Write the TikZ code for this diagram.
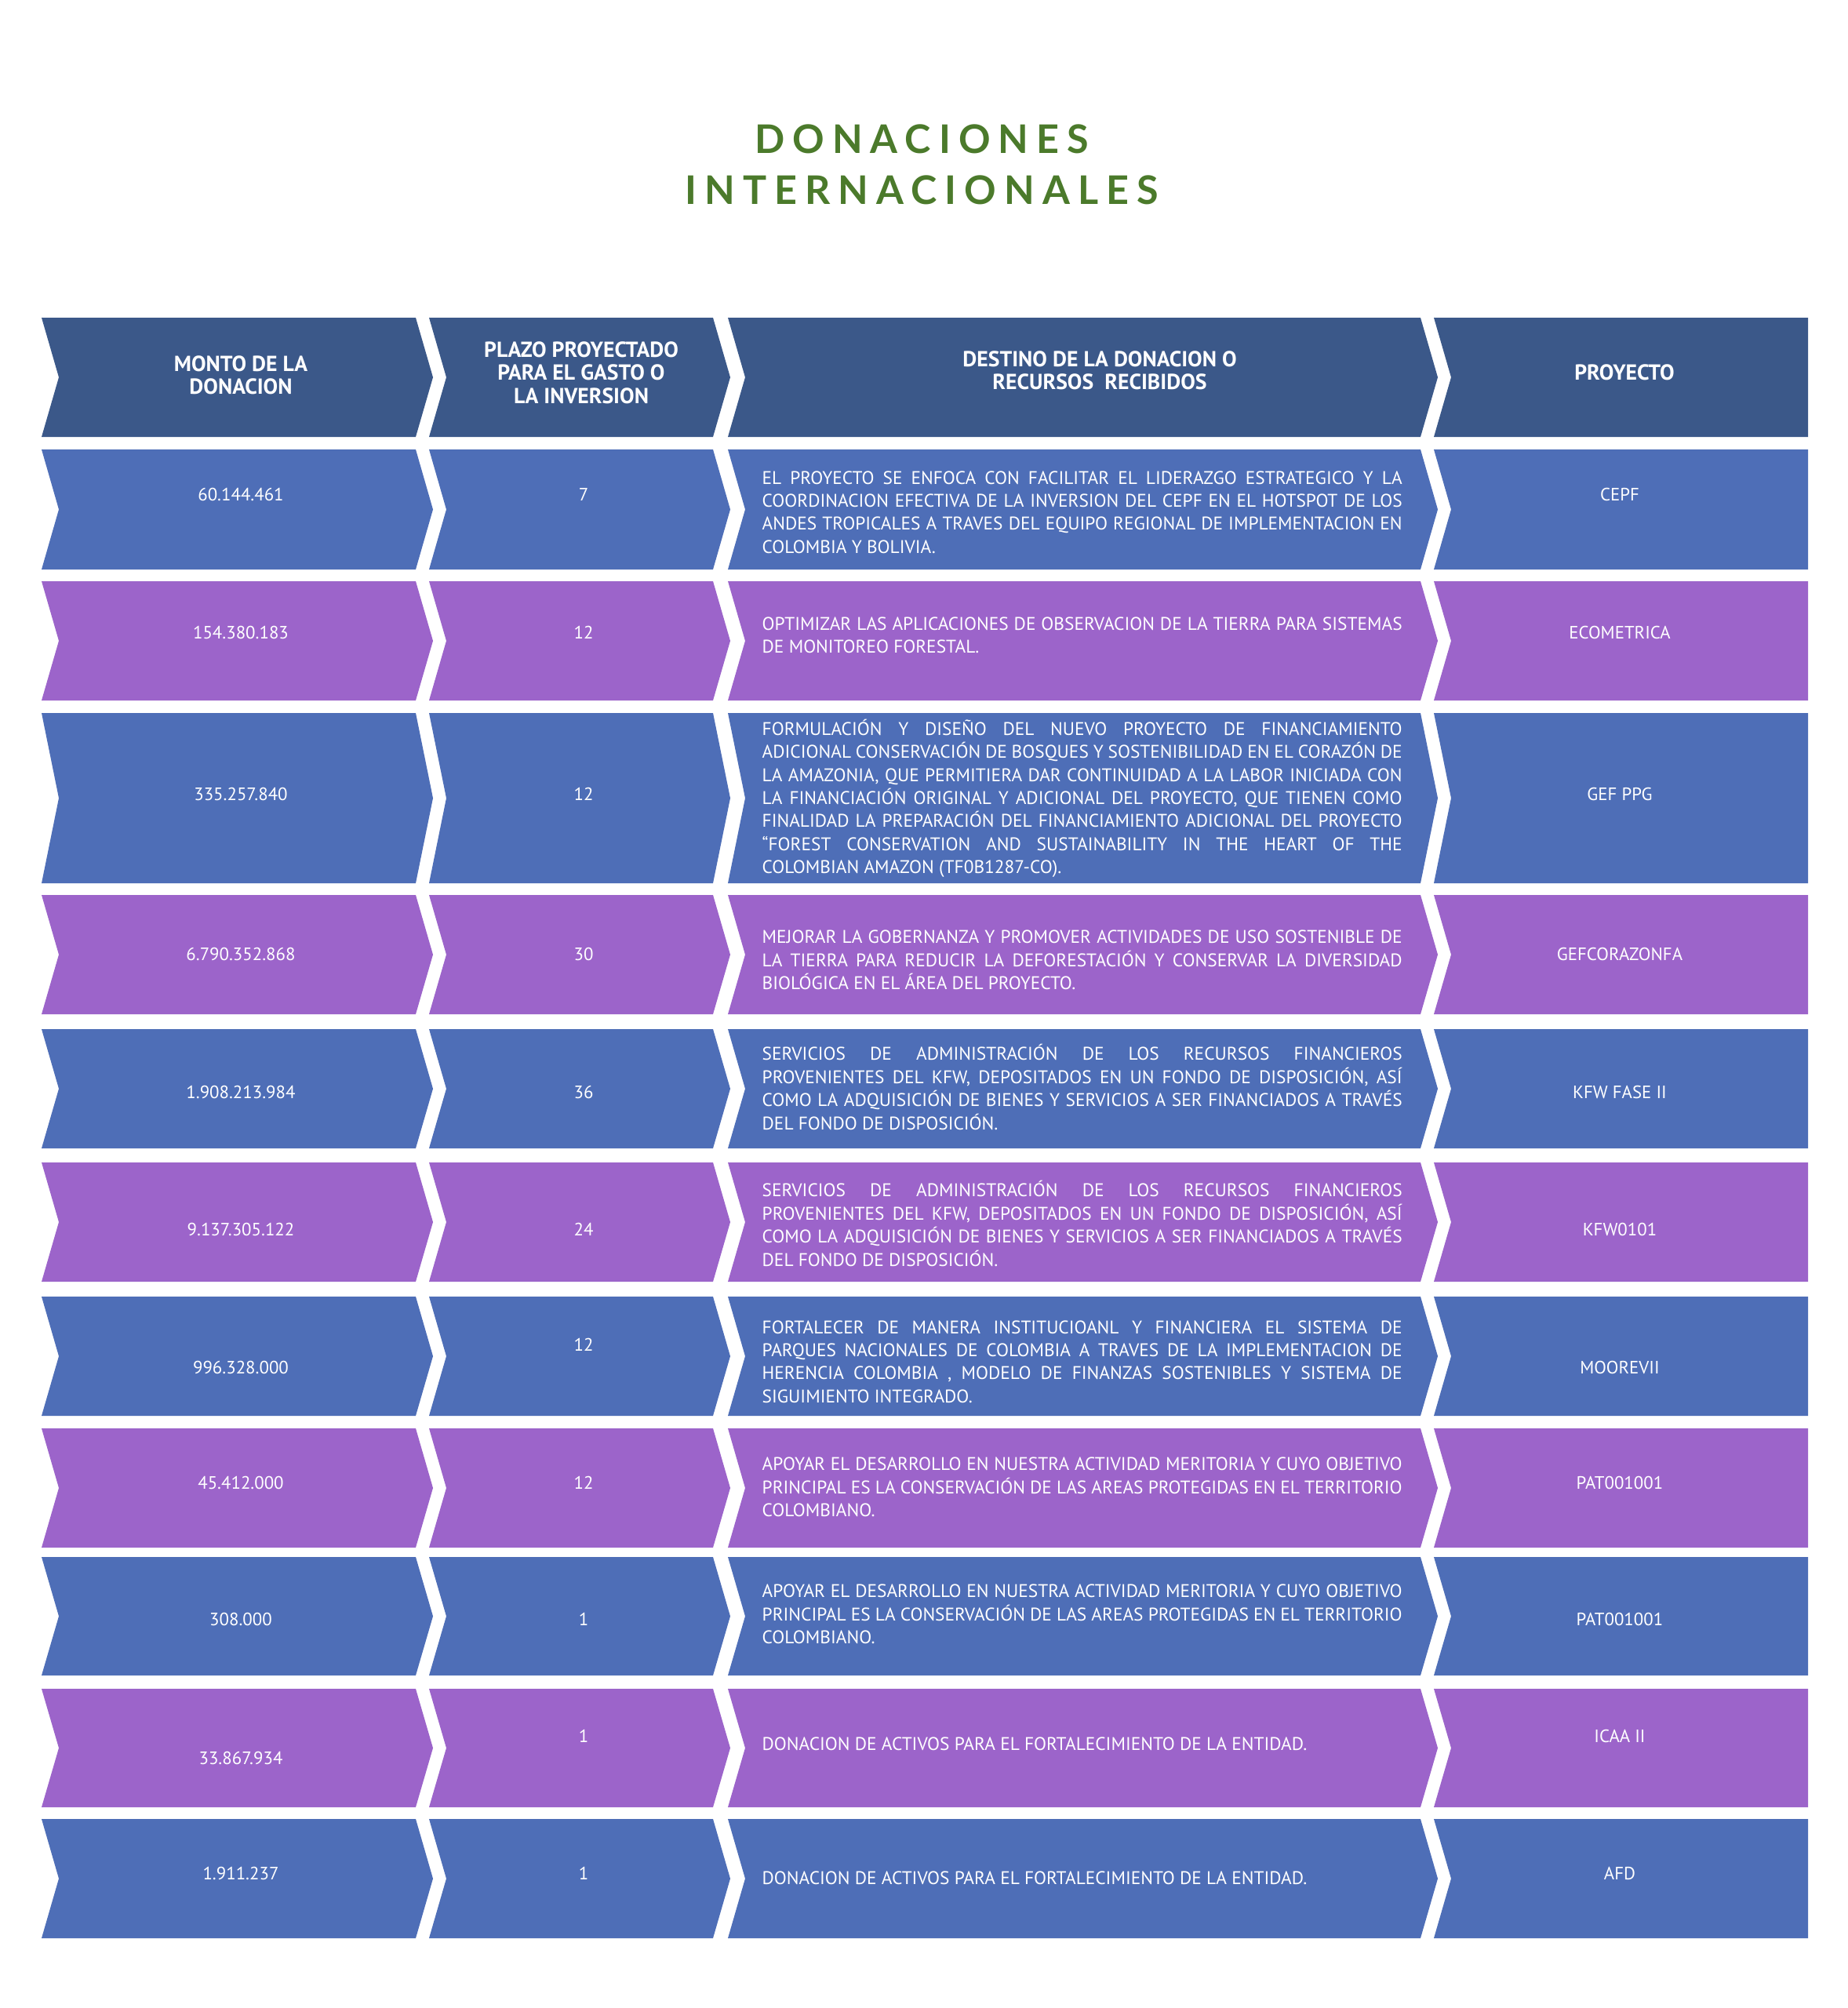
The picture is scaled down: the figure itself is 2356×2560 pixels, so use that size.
\documentclass[tikz,border=0pt]{standalone}
\usepackage{fontspec}
\setmainfont{PT Sans}
\newfontfamily\titlefont[LetterSpace=20]{Lato}
\usepackage{tikz}
\usetikzlibrary{positioning}
\definecolor{hdrblue}{HTML}{3B5889}
\definecolor{rowblue}{HTML}{4E6EB7}
\definecolor{rowpurple}{HTML}{9C64CA}
\definecolor{titlegreen}{HTML}{4B7A2B}
\tikzset{cell/.style={text=white, inner sep=0pt, align=center, font=\fontsize{6.5}{8.36}\selectfont}}
\tikzset{hcell/.style={cell, font=\fontsize{7.9}{8.36}\selectfont\bfseries}}
\tikzset{dcell/.style={cell, anchor=west, align=left, font=\fontsize{6.65}{8.36}\selectfont}}
\tikzset{titletext/.style={inner sep=0pt, text=titlegreen, font=\titlefont\bfseries\fontsize{14.3}{16}\selectfont}}
\newlength\destw
\setlength\destw{81.6mm}
\newcommand\jl[1]{\makebox[\destw][s]{#1}}
\newcommand\chev[5]{
			\pgfmathsetmacro\ymid{(#3+#4)/2}
			\fill[#5] (#1,#3) -- (#2,#3) -- (#2+22,\ymid) -- (#2,#4) -- (#1,#4) -- (#1+22,\ymid) -- cycle;
			}
\newcommand\chevend[5]{
			\pgfmathsetmacro\ymid{(#3+#4)/2}
			\fill[#5] (#1,#3) -- (#2,#3) -- (#2,#4) -- (#1,#4) -- (#1+22,\ymid) -- cycle;
			}
\begin{document}
\begin{tikzpicture}[x=0.1mm, y=-0.1mm]
		\useasboundingbox (0,0) rectangle (2356,2560);
		\fill[white] (0,0) rectangle (2356,2560);
		\node[titletext] (t1) at (1175,177) {DONACIONES};
		\node[titletext, below=2.7mm of t1] (t2) {INTERNACIONALES};
		\foreach \t/\b/\c in {405/557/hdrblue, 573/726/rowblue, 741/893/rowpurple, 909/1126/rowblue,
				1141/1293/rowpurple, 1312/1464/rowblue, 1482/1634/rowpurple, 1653/1805/rowblue,
				1821/1973/rowpurple, 1985/2136/rowblue, 2153/2304/rowpurple, 2319/2471/rowblue}{
			\chev{53}{530}{\t}{\b}{\c}
			\chev{547}{909}{\t}{\b}{\c}
			\chev{928}{1811}{\t}{\b}{\c}
			\chevend{1828}{2305}{\t}{\b}{\c}
		}
		\node[hcell] (h1) at (307,478) {MONTO DE LA\\DONACION};
		\node[hcell] (h2) at (741,475) {PLAZO PROYECTADO\\PARA EL GASTO O\\LA INVERSION};
		\node[hcell] (h3) at (1402,472) {DESTINO DE LA DONACION O\\RECURSOS\ \ RECIBIDOS};
		\node[hcell] (h4) at (2071,475) {PROYECTO};
		\foreach \ym/\m/\yp/\p/\yq/\q [count=\i] in {630/60.144.461/630/7/630/CEPF,
				806/154.380.183/806/12/806/ECOMETRICA, 1012/335.257.840/1012/12/1012/GEF PPG,
				1216/6.790.352.868/1216/30/1216/GEFCORAZONFA, 1392/1.908.213.984/1392/36/1392/KFW FASE II,
				1567/9.137.305.122/1567/24/1567/KFW0101, 1743/996.328.000/1714/12/1743/MOOREVII,
				1890/45.412.000/1890/12/1890/PAT001001, 2064/308.000/2064/1/2064/PAT001001,
				2241/33.867.934/2213/1/2213/ICAA II, 2388/1.911.237/2388/1/2388/AFD}{
			\node[cell] (m\i) at (307,\ym) {\m};
			\node[cell] (p\i) at (744,\yp) {\p};
			\node[cell] (q\i) at (2065,\yq) {\q};
		}
		\node[dcell] (d1) at (971,653) {\jl{EL PROYECTO SE ENFOCA CON FACILITAR EL LIDERAZGO ESTRATEGICO Y LA}\\
			\jl{COORDINACION EFECTIVA DE LA INVERSION DEL CEPF EN EL HOTSPOT DE LOS}\\
			\jl{ANDES TROPICALES A TRAVES DEL EQUIPO REGIONAL DE IMPLEMENTACION EN}\\
			COLOMBIA Y BOLIVIA.};
		\node[dcell] (d2) at (971,810) {\jl{OPTIMIZAR LAS APLICACIONES DE OBSERVACION DE LA TIERRA PARA SISTEMAS}\\
			DE MONITOREO FORESTAL.};
		\node[dcell] (d3) at (971,1018) {\jl{FORMULACIÓN Y DISEÑO DEL NUEVO PROYECTO DE FINANCIAMIENTO}\\
			\jl{ADICIONAL CONSERVACIÓN DE BOSQUES Y SOSTENIBILIDAD EN EL CORAZÓN DE}\\
			\jl{LA AMAZONIA, QUE PERMITIERA DAR CONTINUIDAD A LA LABOR INICIADA CON}\\
			\jl{LA FINANCIACIÓN ORIGINAL Y ADICIONAL DEL PROYECTO, QUE TIENEN COMO}\\
			\jl{FINALIDAD LA PREPARACIÓN DEL FINANCIAMIENTO ADICIONAL DEL PROYECTO}\\
			\jl{“FOREST CONSERVATION AND SUSTAINABILITY IN THE HEART OF THE}\\
			COLOMBIAN AMAZON (TF0B1287-CO).};
		\node[dcell] (d4) at (971,1224) {\jl{MEJORAR LA GOBERNANZA Y PROMOVER ACTIVIDADES DE USO SOSTENIBLE DE}\\
			\jl{LA TIERRA PARA REDUCIR LA DEFORESTACIÓN Y CONSERVAR LA DIVERSIDAD}\\
			BIOLÓGICA EN EL ÁREA DEL PROYECTO.};
		\node[dcell] (d5) at (971,1386) {\jl{SERVICIOS DE ADMINISTRACIÓN DE LOS RECURSOS FINANCIEROS}\\
			\jl{PROVENIENTES DEL KFW, DEPOSITADOS EN UN FONDO DE DISPOSICIÓN, ASÍ}\\
			\jl{COMO LA ADQUISICIÓN DE BIENES Y SERVICIOS A SER FINANCIADOS A TRAVÉS}\\
			DEL FONDO DE DISPOSICIÓN.};
		\node[dcell] (d6) at (971,1560) {\jl{SERVICIOS DE ADMINISTRACIÓN DE LOS RECURSOS FINANCIEROS}\\
			\jl{PROVENIENTES DEL KFW, DEPOSITADOS EN UN FONDO DE DISPOSICIÓN, ASÍ}\\
			\jl{COMO LA ADQUISICIÓN DE BIENES Y SERVICIOS A SER FINANCIADOS A TRAVÉS}\\
			DEL FONDO DE DISPOSICIÓN.};
		\node[dcell] (d7) at (971,1736) {\jl{FORTALECER DE MANERA INSTITUCIOANL Y FINANCIERA EL SISTEMA DE}\\
			\jl{PARQUES NACIONALES DE COLOMBIA A TRAVES DE LA IMPLEMENTACION DE}\\
			\jl{HERENCIA COLOMBIA , MODELO DE FINANZAS SOSTENIBLES Y SISTEMA DE}\\
			SIGUIMIENTO INTEGRADO.};
		\node[dcell] (d8) at (971,1896) {\jl{APOYAR EL DESARROLLO EN NUESTRA ACTIVIDAD MERITORIA Y CUYO OBJETIVO}\\
			\jl{PRINCIPAL ES LA CONSERVACIÓN DE LAS AREAS PROTEGIDAS EN EL TERRITORIO}\\
			COLOMBIANO.};
		\node[dcell] (d9) at (971,2058) {\jl{APOYAR EL DESARROLLO EN NUESTRA ACTIVIDAD MERITORIA Y CUYO OBJETIVO}\\
			\jl{PRINCIPAL ES LA CONSERVACIÓN DE LAS AREAS PROTEGIDAS EN EL TERRITORIO}\\
			COLOMBIANO.};
		\node[dcell] (d10) at (971,2223) {DONACION DE ACTIVOS PARA EL FORTALECIMIENTO DE LA ENTIDAD.};
		\node[dcell] (d11) at (971,2394) {DONACION DE ACTIVOS PARA EL FORTALECIMIENTO DE LA ENTIDAD.};
	\end{tikzpicture}
\end{document}
